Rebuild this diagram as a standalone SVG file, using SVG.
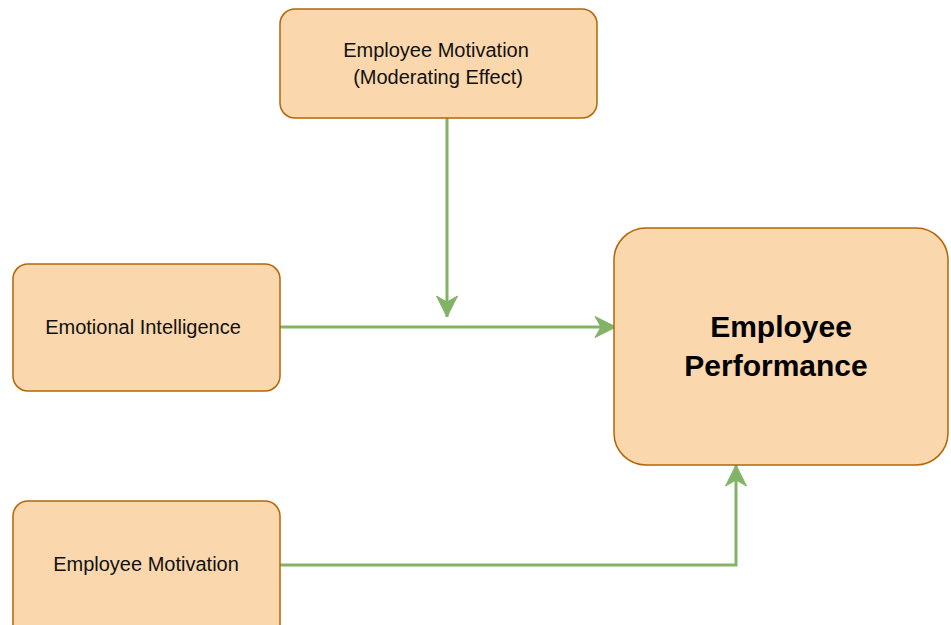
<svg xmlns="http://www.w3.org/2000/svg" width="951" height="625" viewBox="0 0 951 625">
  <style>
    .box { fill: #fad7ac; stroke: #b46504; stroke-width: 1.5; }
    .lbl { font-family: "Liberation Sans", Arial, sans-serif; font-size: 20px; fill: #111; text-anchor: middle; }
    .big { font-family: "Liberation Sans", Arial, sans-serif; font-size: 30px; font-weight: bold; fill: #000; text-anchor: middle; }
    .edge { fill: none; stroke: #82b366; stroke-width: 3; }
  </style>
  <defs>
    <marker id="arrow" markerUnits="userSpaceOnUse" markerWidth="24" markerHeight="24" viewBox="-22 -12 24 24" refX="0" refY="0" orient="auto">
      <path d="M0,0 L-21,-10.5 L-15,0 L-21,10.5 Z" fill="#82b366" stroke="#82b366" stroke-width="1" stroke-linejoin="miter"/>
    </marker>
  </defs>
  <rect width="951" height="625" fill="#ffffff"/>

  <g id="connectors">
    <path class="edge" d="M447,118 L447,317" marker-end="url(#arrow)"/>
    <path class="edge" d="M280,327 L616,327" marker-end="url(#arrow)"/>
    <path class="edge" d="M280,565 L736,565 L736,465" marker-end="url(#arrow)"/>
  </g>

  <g id="moderator">
    <rect class="box" x="280" y="9" width="317" height="109" rx="15" ry="15"/>
    <text class="lbl" x="436" y="57">Employee Motivation</text>
    <text class="lbl" x="438" y="84">(Moderating Effect)</text>
  </g>

  <g id="emotional-intelligence">
    <rect class="box" x="13" y="264" width="267" height="127" rx="15" ry="15"/>
    <text class="lbl" x="143" y="334">Emotional Intelligence</text>
  </g>

  <g id="employee-motivation">
    <rect class="box" x="13" y="501" width="267" height="140" rx="15" ry="15"/>
    <text class="lbl" x="146" y="571">Employee Motivation</text>
  </g>

  <g id="employee-performance">
    <rect class="box" x="614" y="228" width="334" height="237" rx="32" ry="32"/>
    <text class="big" x="781" y="337">Employee</text>
    <text class="big" x="776" y="376">Performance</text>
  </g>
</svg>
